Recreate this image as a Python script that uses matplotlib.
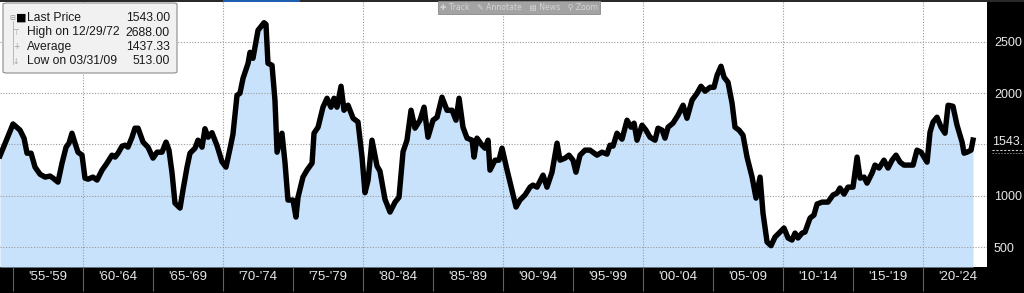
import matplotlib
matplotlib.use("Agg")
import matplotlib.pyplot as plt
from matplotlib.patches import FancyBboxPatch, Rectangle
from matplotlib.lines import Line2D

plt.rcParams['font.family'] = ['Liberation Sans', 'DejaVu Sans']

# ---------------- data (decimal year, price) ----------------
years = [
    1954.07, 1954.43, 1955.00, 1955.50, 1955.79, 1956.00, 1956.29, 1956.57, 1956.93, 1957.29,
    1957.64, 1957.86, 1958.21, 1958.50, 1958.79, 1959.00, 1959.21, 1959.43, 1959.64, 1959.93,
    1960.14, 1960.36, 1960.71, 1961.00, 1961.36, 1961.71, 1962.07, 1962.29, 1962.50, 1962.79,
    1963.00, 1963.21, 1963.50, 1963.71, 1963.93, 1964.29, 1964.64, 1965.00, 1965.29, 1965.64,
    1965.93, 1966.14, 1966.36, 1966.57, 1966.93, 1967.14, 1967.43, 1967.64, 1968.00, 1968.21,
    1968.50, 1968.71, 1968.93, 1969.21, 1969.57, 1969.93, 1970.21, 1970.50, 1970.71, 1971.00,
    1971.21, 1971.43, 1971.79, 1971.93, 1972.14, 1972.50, 1972.93, 1973.07, 1973.21, 1973.50,
    1973.71, 1973.86, 1974.21, 1974.43, 1974.64, 1975.00, 1975.21, 1975.36, 1975.71, 1976.00,
    1976.36, 1976.50, 1976.79, 1977.14, 1977.43, 1977.71, 1977.93, 1978.14, 1978.43, 1978.64,
    1978.93, 1979.29, 1979.64, 1979.93, 1980.14, 1980.36, 1980.64, 1981.00, 1981.21, 1981.57,
    1981.93, 1982.29, 1982.57, 1982.86, 1983.14, 1983.43, 1983.71, 1984.07, 1984.36, 1984.64,
    1985.00, 1985.29, 1985.64, 1986.00, 1986.36, 1986.64, 1986.86, 1987.14, 1987.43, 1987.79,
    1987.93, 1988.14, 1988.50, 1988.71, 1988.93, 1989.07, 1989.43, 1989.71, 1989.93, 1990.29,
    1990.64, 1990.93, 1991.21, 1991.57, 1991.93, 1992.14, 1992.43, 1992.86, 1993.14, 1993.50,
    1993.86, 1994.07, 1994.43, 1994.71, 1995.00, 1995.21, 1995.50, 1995.86, 1996.21, 1996.71,
    1997.07, 1997.43, 1997.64, 1997.86, 1998.14, 1998.50, 1998.86, 1999.14, 1999.36, 1999.57,
    1999.93, 2000.21, 2000.50, 2000.86, 2001.07, 2001.36, 2001.57, 2001.79, 2002.14, 2002.50,
    2002.86, 2003.14, 2003.50, 2003.86, 2004.14, 2004.43, 2004.79, 2005.07, 2005.29, 2005.57,
    2005.79, 2006.07, 2006.36, 2006.57, 2006.86, 2007.14, 2007.43, 2007.79, 2008.07, 2008.36,
    2008.57, 2008.86, 2009.14, 2009.43, 2009.79, 2010.07, 2010.36, 2010.64, 2010.86, 2011.07,
    2011.36, 2011.57, 2011.93, 2012.21, 2012.43, 2012.79, 2013.21, 2013.57, 2013.86, 2014.07,
    2014.36, 2014.64, 2015.00, 2015.29, 2015.50, 2015.79, 2016.00, 2016.36, 2016.57, 2016.86,
    2017.21, 2017.50, 2017.79, 2018.07, 2018.36, 2018.64, 2019.07, 2019.29, 2019.57, 2019.86,
    2020.07, 2020.29, 2020.50, 2020.71, 2021.00, 2021.29, 2021.57, 2021.79, 2022.14, 2022.43,
    2022.79, 2022.93, 2023.14, 2023.43, 2023.57,
]
prices = [
    1390, 1510, 1700, 1640, 1560, 1415, 1415, 1280, 1210, 1182,
    1192, 1172, 1133, 1318, 1474, 1513, 1610, 1513, 1425, 1396,
    1172, 1162, 1182, 1153, 1250, 1318, 1396, 1377, 1415, 1484,
    1493, 1474, 1571, 1659, 1659, 1523, 1474, 1367, 1425, 1425,
    1523, 1445, 1221, 928, 880, 1055, 1279, 1415, 1464, 1542,
    1474, 1654, 1571, 1615, 1490, 1330, 1279, 1460, 1600, 1980,
    2000, 2146, 2292, 2399, 2341, 2614, 2688, 2672, 2292, 2273,
    1932, 1425, 1610, 1318, 958, 958, 792, 987, 1182, 1250,
    1318, 1610, 1669, 1864, 1951, 1864, 1951, 1864, 2068, 1834,
    1883, 1756, 1720, 1377, 1030, 1150, 1542, 1290, 1240, 965,
    841, 938, 985, 1430, 1542, 1834, 1659, 1737, 1864, 1571,
    1737, 1766, 1961, 1834, 1834, 1737, 1951, 1669, 1562, 1542,
    1377, 1562, 1493, 1464, 1542, 1250, 1347, 1347, 1464, 1250,
    1055, 890, 958, 1007, 1084, 1104, 1084, 1201, 1084, 1230,
    1513, 1347, 1367, 1396, 1347, 1230, 1396, 1445, 1445, 1396,
    1425, 1406, 1493, 1484, 1610, 1552, 1737, 1669, 1708, 1542,
    1688, 1640, 1571, 1542, 1659, 1640, 1562, 1669, 1708, 1786,
    1883, 1756, 1932, 2000, 2068, 2020, 2058, 2058, 2175, 2263,
    2156, 2107, 1903, 1669, 1640, 1591, 1377, 1182, 977, 1182,
    831, 549, 513, 597, 646, 685, 588, 568, 636, 588,
    636, 646, 782, 812, 919, 938, 938, 1007, 1026, 1075,
    1016, 1084, 1084, 1377, 1172, 1182, 1123, 1221, 1299, 1270,
    1347, 1270, 1347, 1396, 1328, 1299, 1299, 1299, 1445, 1425,
    1377, 1328, 1620, 1717, 1766, 1669, 1610, 1883, 1873, 1688,
    1523, 1415, 1425, 1445, 1543,
]

period_bounds = [1955, 1960, 1965, 1970, 1975, 1980, 1985, 1990, 1995, 2000, 2005, 2010, 2015, 2020]
period_labels = ["'55-'59", "'60-'64", "'65-'69", "'70-'74", "'75-'79", "'80-'84", "'85-'89",
                 "'90-'94", "'95-'99", "'00-'04", "'05-'09", "'10-'14", "'15-'19", "'20-'24"]
decade_lines = [1960, 1970, 1980, 1990, 2000, 2010, 2020]
y_ticks = [500, 1000, 1500, 2000, 2500]
y_ticklabels = ['500', '1000', '', '2000', '2500']

legend_names = ["Last Price", "High on 12/29/72", "Average", "Low on 03/31/09"]
legend_values = ["1543.00", "2688.00", "1437.33", "513.00"]
last_price = 1543

# ---------------- figure ----------------
W, H = 1024, 293
fig = plt.figure(figsize=(W / 100, H / 100), dpi=100, facecolor='black')


def fx(x):
    return x / W


def fy(y):
    return 1 - y / H


ax = fig.add_axes([0, fy(267), fx(987), fy(2) - fy(267)])
ax.set_facecolor('white')
ymin, ymax = 305, 2890
ax.set_ylim(ymin, ymax)
ax.set_xlim(1954.07, 2024.57)

ax.fill_between(years, prices, ymin, color='#c9e2fb', lw=0, zorder=1)
ax.plot(years, prices, color='black', lw=3.9, solid_joinstyle='round', zorder=3)

# grid
for v in y_ticks:
    ax.axhline(v, color='#9a9a9a', lw=0.8, ls=(0, (1, 1.5)), zorder=2)
for d in decade_lines:
    ax.axvline(d, color='#9a9a9a', lw=0.8, ls=(0, (1, 1.5)), zorder=2)

for s in ax.spines.values():
    s.set_visible(False)

ax.yaxis.tick_right()
ax.set_yticks(y_ticks)
ax.set_yticklabels(y_ticklabels)
ax.tick_params(axis='y', length=0, pad=5, labelcolor='#e8e8e8', labelsize=9)

centers = [b + 2.5 for b in period_bounds]
ax.set_xticks(centers)
ax.set_xticklabels(period_labels)
ax.tick_params(axis='x', length=0, pad=3, labelcolor='#e8e8e8', labelsize=9.5)
ax.set_xticks(period_bounds, minor=True)
ax.tick_params(axis='x', which='minor', length=17, width=0.8, color='#606060', direction='out')

# last price label on the right axis
ax.annotate(f"{last_price:d}.", xy=(1, last_price), xycoords=('axes fraction', 'data'),
            xytext=(4, -1.5), textcoords='offset points', color='#e8e8e8', fontsize=9,
            va='center', ha='left', annotation_clip=False)
fig.add_artist(Line2D([fx(992), fx(1024)], [fy(150), fy(150)], color='#d0d0d0', lw=0.8,
                      ls=(0, (2, 1.5))))
fig.add_artist(Line2D([fx(992), fx(1024)], [fy(153), fy(153)], color='#8a8a8a', lw=0.6,
                      ls=(0, (2, 1.5))))

# top dark strip
fig.add_artist(Rectangle((0, fy(2)), 1, fy(0) - fy(2), transform=fig.transFigure,
                         color='#2a2a2a', lw=0, zorder=5))
fig.add_artist(Rectangle((fx(223), fy(2)), fx(77), fy(0) - fy(2), transform=fig.transFigure,
                         color='#1f5fb0', lw=0, zorder=6))

# toolbar
fig.add_artist(Rectangle((fx(438), fy(14)), fx(162), fy(1) - fy(14), transform=fig.transFigure,
                         facecolor='#a3a3a3', edgecolor='#8a8a8a', lw=0.6, zorder=7))
fig.text(fx(519), fy(7.8), "\u271a Track   \u270e Annotate   \u25a4 News   \u26b2 Zoom",
         color='#d4d4d4', fontsize=5.6, ha='center', va='center', zorder=8,
         family=['DejaVu Sans'])

# legend box
fig.add_artist(FancyBboxPatch((fx(3), fy(73)), fx(174), fy(3) - fy(73),
                              boxstyle='round,pad=0,rounding_size=0.004',
                              transform=fig.transFigure, facecolor='#f1f1f1',
                              edgecolor='#8c8c8c', lw=0.8, zorder=7))
row_y = [18, 32.5, 47, 61]
fig.add_artist(Line2D([fx(12.5), fx(12.5)], [fy(21), fy(64)], color='#b0b0b0', lw=0.6, zorder=8))
fig.text(fx(12.5), fy(row_y[0]), "\u229f", color='#909090', fontsize=5, ha='center',
         va='center', zorder=9, family=['DejaVu Sans'])
fig.text(fx(21), fy(row_y[0]), "\u25a0", color='black', fontsize=8, ha='center',
         va='center', zorder=9, family=['DejaVu Sans'])
for sym, ry in zip(["\u22a4", "+", "\u2193"], row_y[1:]):
    fig.text(fx(16), fy(ry), sym, color='#a0a0a0', fontsize=5.5, ha='center', va='center',
             zorder=9, family=['DejaVu Sans'])
for name, val, ry in zip(legend_names, legend_values, row_y):
    fig.text(fx(27), fy(ry), name, color='#1a1a1a', fontsize=8.7, ha='left', va='center', zorder=9)
    fig.text(fx(170), fy(ry), val, color='#1a1a1a', fontsize=8.7, ha='right', va='center', zorder=9)

fig.savefig('out.png', dpi=100, facecolor='black')
